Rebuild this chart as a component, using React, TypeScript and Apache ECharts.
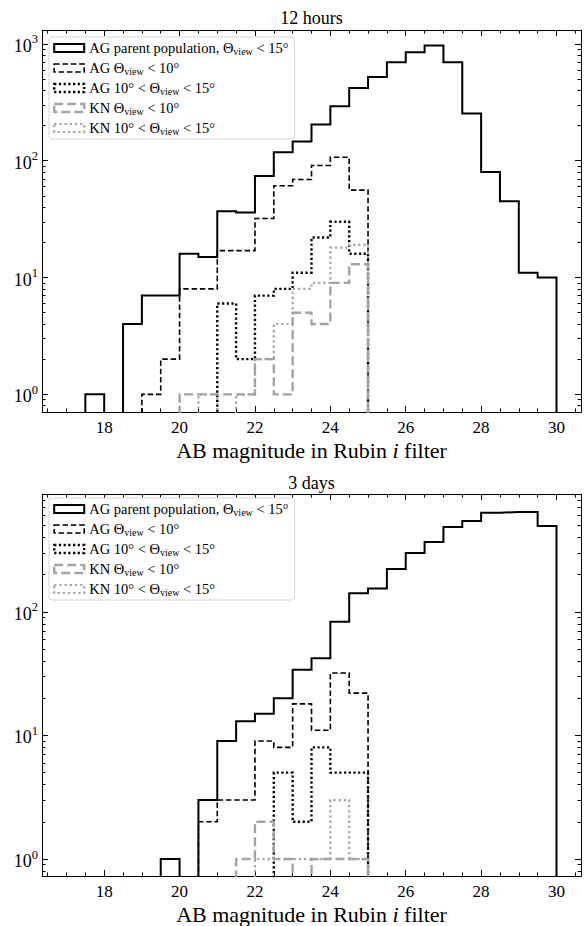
import React, { useEffect, useRef } from "react";
import * as echarts from "echarts";

// ---------- data ----------
const binEdges = [17, 17.5, 18, 18.5, 19, 19.5, 20, 20.5, 21, 21.5, 22, 22.5, 23, 23.5, 24, 24.5, 25, 25.5, 26, 26.5, 27, 27.5, 28, 28.5, 29, 29.5, 30];

// 12 hours
const agParent12h = [0, 1, 0, 4, 7, 7, 16, 15, 37, 36, 74, 118, 146, 204, 292, 420, 520, 697, 849, 968, 697, 254, 80, 45, 11, 10];
const agNarrow12h = [0, 0, 0, 0, 1, 2, 8, 8, 17, 17, 32, 61, 69, 91, 107, 56, 0, 0, 0, 0, 0, 0, 0, 0, 0, 0];
const agWide12h = [0, 0, 0, 0, 0, 0, 0, 0, 6, 2, 7, 8, 11, 22, 30, 16, 0, 0, 0, 0, 0, 0, 0, 0, 0, 0];
const knNarrow12h = [0, 0, 0, 0, 0, 0, 1, 1, 1, 1, 2, 1, 5, 4, 9, 13, 0, 0, 0, 0, 0, 0, 0, 0, 0, 0];
const knWide12h = [0, 0, 0, 0, 0, 0, 0, 1, 0, 1, 2, 4, 8, 9, 18, 19, 0, 0, 0, 0, 0, 0, 0, 0, 0, 0];

// 3 days
const agParent3d = [0, 0, 0, 0, 0, 1, 0, 3, 9, 13, 15, 20, 34, 42, 83, 141, 154, 222, 299, 367, 485, 542, 634, 640, 640, 494];
const agNarrow3d = [0, 0, 0, 0, 0, 0, 0, 2, 3, 3, 9, 8, 18, 11, 32, 22, 0, 0, 0, 0, 0, 0, 0, 0, 0, 0];
const agWide3d = [0, 0, 0, 0, 0, 0, 0, 0, 0, 0, 0, 5, 2, 8, 5, 5, 0, 0, 0, 0, 0, 0, 0, 0, 0, 0];
const knNarrow3d = [0, 0, 0, 0, 0, 0, 0, 0, 0, 1, 2, 1, 0, 1, 1, 1, 0, 0, 0, 0, 0, 0, 0, 0, 0, 0];
const knWide3d = [0, 0, 0, 0, 0, 0, 0, 0, 0, 0, 1, 1, 1, 1, 3, 1, 0, 0, 0, 0, 0, 0, 0, 0, 0, 0];

const panelTitles = ["12 hours", "3 days"];
const seriesNames = [
  "AG parent population, Θview < 15°",
  "AG Θview < 10°",
  "AG 10° < Θview < 15°",
  "KN Θview < 10°",
  "KN 10° < Θview < 15°",
];
const xMajorTicks = [18, 20, 22, 24, 26, 28, 30];
const xMinorTicks = [16.5, 17, 17.5, 18.5, 19, 19.5, 20.5, 21, 21.5, 22.5, 23, 23.5, 24.5, 25, 25.5, 26.5, 27, 27.5, 28.5, 29, 29.5, 30.5];
const yMajorTicks = [1, 10, 100, 1000];
const yMinorTicks = [0.8, 0.9, 2, 3, 4, 5, 6, 7, 8, 9, 20, 30, 40, 50, 60, 70, 80, 90, 200, 300, 400, 500, 600, 700, 800, 900];

// ---------- style / layout ----------
const FONT = "'Liberation Serif', 'DejaVu Serif', serif";
const X_MIN = 16.35;
const X_MAX = 30.65;
const Y_RANGES = [
  [0.706, 1315],
  [0.729, 897],
];
const GRIDS = [
  { left: 42, top: 30, width: 539, height: 382 },
  { left: 42, top: 494, width: 539, height: 382 },
];
const TITLE_TOPS = [9, 474];
const LEGEND_TOPS = [37, 498];
const GRAY = "#a3a3a3";

const seriesStyles = [
  { color: "#000", width: 2, dash: "solid" as any },
  { color: "#000", width: 1.6, dash: [5.5, 2.8] },
  { color: "#000", width: 2.4, dash: [2.2, 2.5] },
  { color: GRAY, width: 2.4, dash: [9, 4] },
  { color: GRAY, width: 2.2, dash: [2.2, 3] },
];

const FLOOR = 1e-3;
function outline(counts: number[]) {
  const pts: number[][] = [];
  pts.push([binEdges[0], FLOOR]);
  counts.forEach((c, i) => {
    const v = c > 0 ? c : FLOOR;
    pts.push([binEdges[i], v]);
    pts.push([binEdges[i + 1], v]);
  });
  pts.push([binEdges[binEdges.length - 1], FLOOR]);
  return pts;
}

function buildOption() {
  const panels = [
    [agParent12h, agNarrow12h, agWide12h, knNarrow12h, knWide12h],
    [agParent3d, agNarrow3d, agWide3d, knNarrow3d, knWide3d],
  ];
  const xAxis: any[] = [];
  const yAxis: any[] = [];
  const series: any[] = [];
  const legend: any[] = [];
  const title: any[] = [];
  const axisLineStyle = { color: "#000", width: 1 };

  GRIDS.forEach((_, g) => {
    const [ymin, ymax] = Y_RANGES[g];
    const base = {
      type: "value",
      gridIndex: g,
      min: X_MIN,
      max: X_MAX,
      splitLine: { show: false },
    };
    xAxis.push({
      ...base,
      position: "bottom",
      axisLine: { show: true, onZero: false, lineStyle: axisLineStyle },
      axisTick: { show: true, inside: true, length: 6, lineStyle: axisLineStyle, customValues: xMajorTicks },
      axisLabel: { show: true, customValues: xMajorTicks, margin: 7, fontFamily: FONT, fontSize: 17, color: "#000" },
      name: "AB magnitude in Rubin {it|i} filter",
      nameLocation: "middle",
      nameGap: 27,
      nameTextStyle: {
        fontFamily: FONT,
        fontSize: 22,
        color: "#000",
        rich: { it: { fontFamily: FONT, fontSize: 22, fontStyle: "italic", color: "#000" } },
      },
    });
    xAxis.push({
      ...base,
      position: "bottom",
      axisLine: { show: false, onZero: false },
      axisTick: { show: true, inside: true, length: 3.5, lineStyle: axisLineStyle, customValues: xMinorTicks },
      axisLabel: { show: false },
    });
    xAxis.push({
      ...base,
      position: "top",
      axisLine: { show: true, onZero: false, lineStyle: axisLineStyle },
      axisTick: { show: true, inside: true, length: 6, lineStyle: axisLineStyle, customValues: xMajorTicks },
      axisLabel: { show: false },
    });
    xAxis.push({
      ...base,
      position: "top",
      axisLine: { show: false, onZero: false },
      axisTick: { show: true, inside: true, length: 3.5, lineStyle: axisLineStyle, customValues: xMinorTicks },
      axisLabel: { show: false },
    });

    const ybase = {
      type: "log",
      logBase: 10,
      gridIndex: g,
      min: ymin,
      max: ymax,
      splitLine: { show: false },
    };
    yAxis.push({
      ...ybase,
      position: "left",
      axisLine: { show: true, onZero: false, lineStyle: axisLineStyle },
      axisTick: { show: true, inside: true, length: 6, lineStyle: axisLineStyle, customValues: yMajorTicks },
      axisLabel: {
        show: true,
        customValues: yMajorTicks,
        margin: 4,
        formatter: (v: number) => `{b|10}{e|${Math.round(Math.log10(v))}}`,
        rich: {
          b: { fontFamily: FONT, fontSize: 18, lineHeight: 22, color: "#000", verticalAlign: "bottom" },
          e: { fontFamily: FONT, fontSize: 12.5, lineHeight: 12, color: "#000", verticalAlign: "top" },
        },
      },
    });
    yAxis.push({
      ...ybase,
      position: "left",
      axisLine: { show: false, onZero: false },
      axisTick: { show: true, inside: true, length: 3.5, lineStyle: axisLineStyle, customValues: yMinorTicks },
      axisLabel: { show: false },
    });
    yAxis.push({
      ...ybase,
      position: "right",
      axisLine: { show: true, onZero: false, lineStyle: axisLineStyle },
      axisTick: { show: true, inside: true, length: 6, lineStyle: axisLineStyle, customValues: yMajorTicks },
      axisLabel: { show: false },
    });
    yAxis.push({
      ...ybase,
      position: "right",
      axisLine: { show: false, onZero: false },
      axisTick: { show: true, inside: true, length: 3.5, lineStyle: axisLineStyle, customValues: yMinorTicks },
      axisLabel: { show: false },
    });

    panels[g].forEach((counts, k) => {
      const st = seriesStyles[k];
      series.push({
        type: "line",
        name: seriesNames[k],
        xAxisIndex: g * 4,
        yAxisIndex: g * 4,
        data: outline(counts),
        symbol: "none",
        showSymbol: false,
        clip: true,
        silent: true,
        color: st.color,
        lineStyle: { color: st.color, width: st.width, type: st.dash, cap: "butt", join: "miter" },
        z: 2 + k,
      });
    });

    legend.push({
      orient: "vertical",
      left: 49,
      top: LEGEND_TOPS[g],
      padding: [3, 6, 3, 4],
      itemGap: 4,
      itemWidth: 30,
      itemHeight: 8,
      itemTextGap: 11,
      icon: "rect",
      backgroundColor: "rgba(255,255,255,0.85)",
      borderColor: "#d5d5d5",
      borderWidth: 1,
      borderRadius: 3,
      selectedMode: false,
      data: seriesNames.map((n, k) => ({
        name: n,
        icon: "rect",
        itemStyle: {
          color: "rgba(0,0,0,0)",
          borderColor: seriesStyles[k].color,
          borderWidth: seriesStyles[k].width,
          borderType: seriesStyles[k].dash,
        },
      })),
      formatter: (name: string) => name.replace("Θview", "Θ{s|view}"),
      textStyle: {
        fontFamily: FONT,
        fontSize: 14.5,
        lineHeight: 16,
        color: "#000",
        rich: {
          s: { fontFamily: FONT, fontSize: 10, lineHeight: 10, padding: [6, 0, 0, 0], verticalAlign: "bottom", color: "#000" },
        },
      },
    });

    title.push({
      text: panelTitles[g],
      left: GRIDS[g].left + GRIDS[g].width / 2,
      top: TITLE_TOPS[g],
      textAlign: "center",
      padding: 0,
      textStyle: { fontFamily: FONT, fontSize: 18, fontWeight: "normal", color: "#000" },
    });
  });

  return {
    animation: false,
    backgroundColor: "#fff",
    title,
    legend,
    grid: GRIDS.map((g) => ({ ...g, containLabel: false })),
    xAxis,
    yAxis,
    series,
  };
}

export default function App() {
  const ref = useRef<HTMLDivElement>(null);
  useEffect(() => {
    document.body.style.margin = "0";
    if (!ref.current) return;
    const chart = echarts.init(ref.current, null, { renderer: "svg" });
    chart.setOption(buildOption() as any);
    return () => chart.dispose();
  }, []);
  return <div ref={ref} style={{ position: "absolute", left: 0, top: 0, width: 586, height: 926 }} />;
}
